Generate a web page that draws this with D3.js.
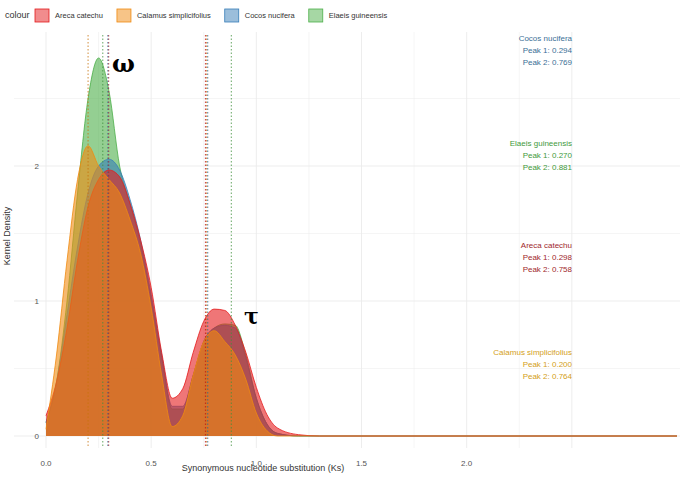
<!DOCTYPE html>
<html><head><meta charset="utf-8">
<script src="https://cdn.jsdelivr.net/npm/d3@7"></script>
<style>body{margin:0;background:#fff;font-family:"Liberation Sans",Arial,sans-serif}</style>
</head><body><div id="chart"></div>
<script>
// species, colours
const species = ['Areca catechu', 'Calamus simplicifolius', 'Cocos nucifera', 'Elaeis guineensis'];
const colours = ['#e41a1c', '#f08a10', '#377eb8', '#4daf4a'];
const textColours = ['#a0282c', '#d4a020', '#3a6f96', '#3f9a3c'];
// x grid for density curves (Ks)
const ks = [0,0.05,0.1,0.15,0.2,0.25,0.3,0.35,0.4,0.45,0.5,0.55,0.6,0.65,0.7,0.75,0.8,0.85,0.9,0.95,1.0,1.05,1.1,1.2,1.3,3.0];
const areca   = [0.15,0.4,0.8,1.3,1.7,1.9,1.97,1.92,1.72,1.45,1.1,0.62,0.28,0.35,0.62,0.85,0.94,0.93,0.82,0.62,0.36,0.16,0.06,0.01,0,0];
const calamus = [0.05,0.6,1.3,1.9,2.15,2.0,1.9,1.8,1.6,1.35,0.95,0.45,0.07,0.15,0.45,0.7,0.78,0.7,0.6,0.42,0.17,0.04,0,0,0,0];
const cocos   = [0.1,0.4,0.9,1.4,1.8,2.0,2.05,1.97,1.75,1.45,1.05,0.6,0.22,0.22,0.45,0.7,0.8,0.82,0.8,0.58,0.28,0.09,0.02,0,0,0];
const elaeis  = [0.1,0.4,1.0,1.8,2.5,2.8,2.55,2.0,1.72,1.42,1.02,0.58,0.2,0.2,0.45,0.7,0.8,0.83,0.82,0.6,0.28,0.09,0.02,0,0,0];
const peak1 = [0.298, 0.200, 0.294, 0.270];
const peak2 = [0.758, 0.764, 0.769, 0.881];
const xTicks = [0, 0.5, 1, 1.5, 2];
const yTicks = [0, 1, 2];

// drawing order
const series = [elaeis, cocos, areca, calamus];
const seriesIdx = [3, 2, 0, 1];

const W = 685, H = 482;
const svg = d3.select('#chart').append('svg').attr('width', W).attr('height', H);
const x = d3.scaleLinear().domain([0, 3.0]).range([46, 677]);
const y = d3.scaleLinear().domain([0, 2.8]).range([436, 58]);

// grid
const g = svg.append('g');
d3.range(0, 2.51, 0.25).forEach(v => g.append('line')
  .attr('x1', x(v)).attr('x2', x(v)).attr('y1', 32).attr('y2', 448)
  .attr('stroke', '#ebebeb').attr('stroke-width', v % 0.5 === 0 ? 0.9 : 0.5));
d3.range(0, 2.51, 0.5).forEach(v => g.append('line')
  .attr('x1', 14).attr('x2', 680).attr('y1', y(v)).attr('y2', y(v))
  .attr('stroke', '#ebebeb').attr('stroke-width', Number.isInteger(v) ? 0.9 : 0.5));

// densities
const area = d3.area().curve(d3.curveMonotoneX)
  .x((d, i) => x(ks[i])).y0(y(0)).y1(d => y(d));
const line = d3.line().curve(d3.curveMonotoneX)
  .x((d, i) => x(ks[i])).y(d => y(d));
series.forEach((s, j) => {
  const c = colours[seriesIdx[j]];
  svg.append('path').datum(s).attr('d', area).attr('fill', c).attr('fill-opacity', 0.6);
  svg.append('path').datum(s).attr('d', line).attr('fill', 'none').attr('stroke', c).attr('stroke-width', 0.8);
});

// peak lines
species.forEach((s, i) => {
  [peak1[i], peak2[i]].forEach(p => svg.append('line')
    .attr('x1', x(p)).attr('x2', x(p)).attr('y1', 35).attr('y2', 448)
    .attr('stroke', d3.color(colours[i]).darker(0.5)).attr('stroke-width', 1)
    .attr('stroke-dasharray', '1.5,2').attr('opacity', 0.8));
});

// axes labels
svg.selectAll('.xt').data(xTicks).enter().append('text')
  .attr('x', d => x(d)).attr('y', 466).attr('text-anchor', 'middle')
  .attr('font-size', 8).attr('fill', '#555').text(d => d.toFixed(1));
svg.selectAll('.yt').data(yTicks).enter().append('text')
  .attr('x', 39).attr('y', d => y(d) + 3).attr('text-anchor', 'end')
  .attr('font-size', 8).attr('fill', '#555').text(d => d);
svg.append('text').attr('x', 263).attr('y', 471).attr('text-anchor', 'middle')
  .attr('font-size', 9).attr('fill', '#333').text('Synonymous nucleotide substitution (Ks)');
svg.append('text').attr('transform', 'translate(10,236) rotate(-90)').attr('text-anchor', 'middle')
  .attr('font-size', 9).attr('fill', '#333').text('Kernel Density');

// greek labels
svg.append('text').attr('x', 112).attr('y', 72).attr('font-family', 'DejaVu Serif, serif')
  .attr('font-weight', 'bold').attr('font-size', 24).text('ω');
svg.append('text').attr('x', 244).attr('y', 324).attr('font-family', 'DejaVu Serif, serif')
  .attr('font-weight', 'bold').attr('font-size', 22).text('τ');

// peak annotations
const annY = [248, 355, 41, 146];
species.forEach((s, i) => {
  const t = svg.append('text').attr('x', 572).attr('y', annY[i]).attr('text-anchor', 'end')
    .attr('font-size', 8).attr('fill', textColours[i]);
  t.append('tspan').attr('x', 572).text(s);
  t.append('tspan').attr('x', 572).attr('dy', 12).text('Peak 1: ' + peak1[i].toFixed(3));
  t.append('tspan').attr('x', 572).attr('dy', 12).text('Peak 2: ' + peak2[i].toFixed(3));
});

// legend
const leg = svg.append('g').attr('transform', 'translate(5,15)');
leg.append('text').attr('x', 0).attr('y', 3).attr('font-size', 9).attr('fill', '#333').text('colour');
let lx = 30;
species.forEach((s, i) => {
  leg.append('rect').attr('x', lx).attr('y', -6).attr('width', 14).attr('height', 13)
    .attr('fill', colours[i]).attr('fill-opacity', 0.5).attr('stroke', colours[i]).attr('stroke-width', 0.8);
  const t = leg.append('text').attr('x', lx + 20).attr('y', 3).attr('font-size', 7.5).attr('fill', '#333').text(s);
  lx += 20 + t.node().getComputedTextLength() + 14;
});
</script></body></html>
